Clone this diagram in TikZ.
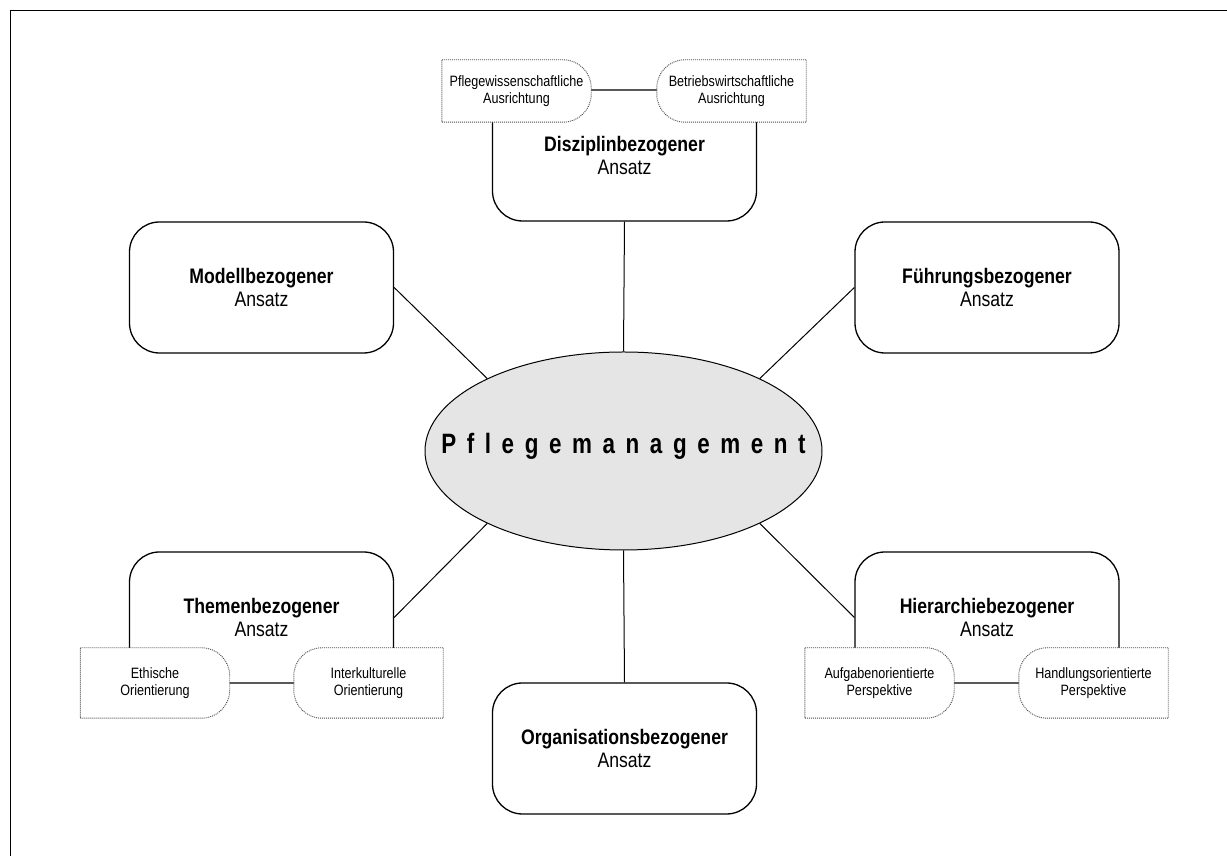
\documentclass[tikz,border=0pt]{standalone}
\usepackage{fontspec}
\setmainfont{Liberation Sans}[FakeStretch=0.84]
\newfontfamily\titlefont{Liberation Sans}[FakeStretch=0.8]
\usetikzlibrary{shapes.geometric}

% corner radius of the small side boxes
\def\subr{28pt}

% small box whose right end is rounded: name, x, y, height, text
\newcommand\subboxL[5]{%
  \node[subgeom, minimum height=#4] (#1) at (#2,#3) {};
  \filldraw[subline] (#1.north west) -- ([xshift=-\subr]#1.north east)
    arc[start angle=90, end angle=0, radius=\subr]
    -- ([yshift=\subr]#1.south east)
    arc[start angle=0, end angle=-90, radius=\subr]
    -- (#1.south west) -- cycle;
  \node[subtext] (#1-t) at (#1) {#5};}

% small box whose left end is rounded: name, x, y, height, text
\newcommand\subboxR[5]{%
  \node[subgeom, minimum height=#4] (#1) at (#2,#3) {};
  \filldraw[subline] (#1.north east) -- ([xshift=\subr]#1.north west)
    arc[start angle=90, end angle=180, radius=\subr]
    -- ([yshift=\subr]#1.south west)
    arc[start angle=180, end angle=270, radius=\subr]
    -- (#1.south east) -- cycle;
  \node[subtext] (#1-t) at (#1) {#5};}

\newcommand\gap{\hskip 10.6pt}

\begin{document}
\begin{tikzpicture}[x=1pt, y=1pt,
  approach/.style={draw, line width=1.3pt, rounded corners=30pt, fill=white,
    minimum width=264pt, minimum height=131pt, inner sep=0pt, align=center,
    font=\fontsize{21}{23.5}\selectfont},
  subgeom/.style={rectangle, draw=none, minimum width=149pt, inner sep=0pt},
  subline/.style={draw=black!70, fill=white, line width=0.9pt,
    dash pattern=on 1pt off 1pt},
  subtext/.style={align=center, inner sep=0pt, font=\fontsize{15}{17.5}\selectfont},
  link/.style={draw, line width=1pt}]

\useasboundingbox (0,0) rectangle (1227,856);

% frame lines along top and left
\draw[line width=1.5pt] (1227,845.5) -- (10.5,845.5) -- (10.5,0);

% central ellipse
\node[ellipse, draw, line width=1pt, fill=black!10, minimum width=397pt,
  minimum height=198pt, inner sep=0pt] (ell) at (623.5,405) {};
\node[anchor=base, inner sep=0pt, font=\titlefont\fontsize{28}{32}\selectfont\bfseries]
  (title) at (623.5,402)
  {P\gap f\gap l\gap e\gap g\gap e\gap m\gap a\gap n\gap a\gap g\gap e\gap m\gap e\gap n\gap t};

% approach boxes
\node[approach] (diszi) at (624.5,700.5) {\textbf{Disziplinbezogener}\\Ansatz};
\node[approach] (modell) at (261.5,568.5) {\textbf{Modellbezogener}\\Ansatz};
\node[approach] (fuehr) at (987,568.5) {\textbf{Führungsbezogener}\\Ansatz};
\node[approach] (themen) at (261.5,238.5) {\textbf{Themenbezogener}\\Ansatz};
\node[approach] (hier) at (987,238.5) {\textbf{Hierarchiebezogener}\\Ansatz};
\node[approach] (orga) at (624.5,107.5) {\textbf{Organisationsbezogener}\\Ansatz};

% connectors to the ellipse
\draw[link] (diszi.south) -- (ell.north);
\draw[link] (orga.north) -- (ell.south);
\draw[link] (modell.east) -- (ell.152);
\draw[link] (fuehr.west) -- (ell.28);
\draw[link] (themen.east) -- (ell.208);
\draw[link] (hier.west) -- (ell.332);

% side boxes
\subboxL{pw}{516.5}{765}{62pt}{Pflegewissenschaftliche\\Ausrichtung}
\subboxR{bw}{731.5}{765}{62pt}{Betriebswirtschaftliche\\Ausrichtung}
\subboxL{eth}{155}{173}{70pt}{Ethische\\Orientierung}
\subboxR{ik}{368.5}{173}{70pt}{Interkulturelle\\Orientierung}
\subboxL{auf}{879.5}{173}{70pt}{Aufgabenorientierte\\Perspektive}
\subboxR{hand}{1093.5}{173}{70pt}{Handlungsorientierte\\Perspektive}

\end{tikzpicture}
\end{document}
